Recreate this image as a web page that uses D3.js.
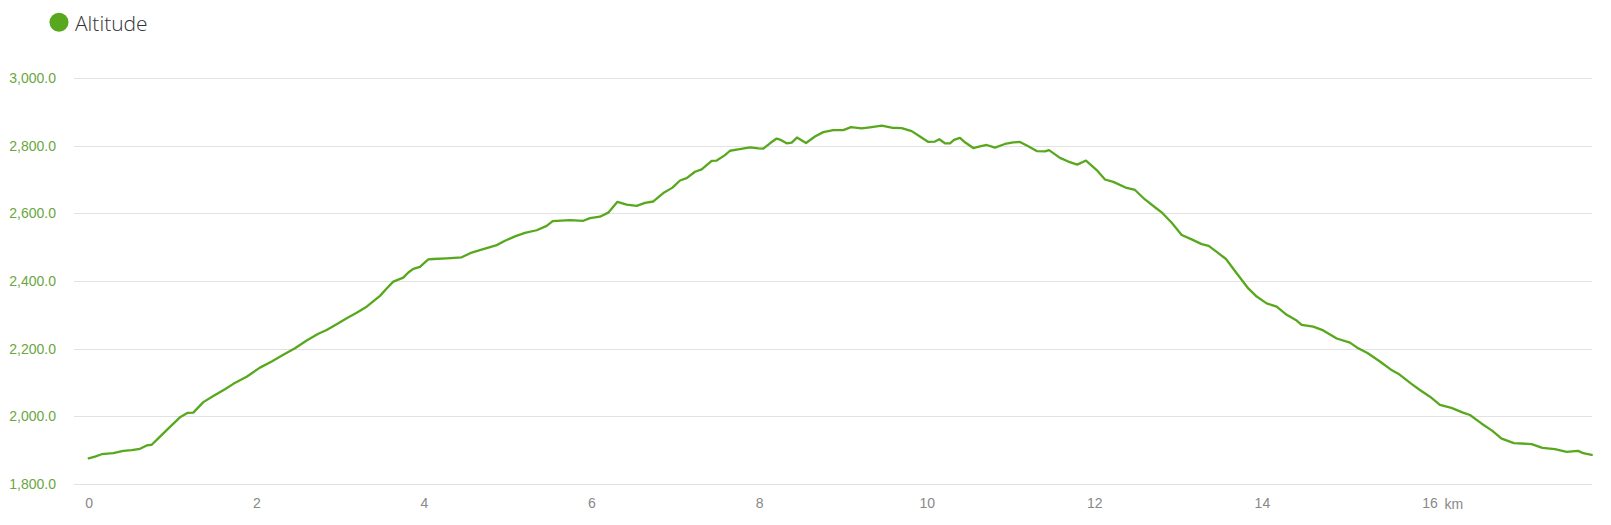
<!DOCTYPE html>
<html>
<head>
<meta charset="utf-8">
<script src="https://cdn.jsdelivr.net/npm/d3@7"></script>
<style>
  html, body { margin: 0; padding: 0; background: #fff; }
  svg { display: block; }
</style>
</head>
<body>
<svg id="chart" width="1611" height="525"></svg>
<script>
// distance along the track (km) and altitude (m)
const distanceKm = [
  0, 0.075, 0.155, 0.294, 0.413, 0.513, 0.612, 0.692, 0.752, 0.851,
  0.970, 1.089, 1.177, 1.248, 1.368, 1.487, 1.626, 1.726, 1.885, 2.044,
  2.184, 2.322, 2.462, 2.601, 2.740, 2.840, 2.979, 3.079, 3.198, 3.317,
  3.476, 3.556, 3.635, 3.754, 3.814, 3.874, 3.953, 4.052, 4.112, 4.272,
  4.451, 4.570, 4.709, 4.869, 4.968, 5.087, 5.206, 5.346, 5.465, 5.537,
  5.743, 5.902, 5.982, 6.101, 6.200, 6.310, 6.420, 6.539, 6.638, 6.738,
  6.857, 6.967, 7.056, 7.136, 7.235, 7.315, 7.434, 7.494, 7.593, 7.653,
  7.752, 7.892, 7.991, 8.050, 8.130, 8.210, 8.249, 8.329, 8.389, 8.452,
  8.560, 8.667, 8.766, 8.885, 9.005, 9.097, 9.224, 9.323, 9.463, 9.582,
  9.702, 9.821, 9.920, 10.019, 10.099, 10.150, 10.218, 10.278, 10.326, 10.397,
  10.457, 10.556, 10.636, 10.716, 10.815, 10.934, 11.033, 11.113, 11.212, 11.313,
  11.412, 11.460, 11.591, 11.690, 11.797, 11.901, 12.029, 12.128, 12.227, 12.387,
  12.486, 12.605, 12.724, 12.804, 12.924, 13.043, 13.162, 13.282, 13.365, 13.461,
  13.572, 13.699, 13.838, 13.938, 14.057, 14.177, 14.296, 14.415, 14.475, 14.613,
  14.733, 14.893, 15.051, 15.150, 15.260, 15.409, 15.541, 15.628, 15.785, 15.886,
  16.006, 16.125, 16.262, 16.400, 16.483, 16.620, 16.751, 16.861, 17.008, 17.219,
  17.348, 17.497, 17.637, 17.775, 17.835, 17.936
]
const altitudeM = [
  1876, 1881, 1888, 1891, 1898, 1900, 1904, 1914, 1916, 1940,
  1969, 1997, 2010, 2011, 2042, 2060, 2080, 2096, 2117, 2144,
  2162, 2182, 2201, 2224, 2244, 2255, 2275, 2290, 2306, 2324,
  2356, 2378, 2398, 2410, 2425, 2436, 2442, 2464, 2465, 2467,
  2470, 2484, 2494, 2506, 2519, 2532, 2542, 2550, 2563, 2577,
  2580, 2578, 2586, 2590, 2602, 2634, 2626, 2622, 2631, 2635,
  2660, 2676, 2697, 2704, 2723, 2730, 2755, 2756, 2772, 2785,
  2789, 2795, 2792, 2791, 2807, 2821, 2818, 2807, 2809, 2824,
  2808, 2827, 2840, 2846, 2846, 2855, 2851, 2854, 2859, 2853,
  2852, 2843, 2827, 2811, 2812, 2819, 2807, 2807, 2817, 2823,
  2810, 2793, 2798, 2802, 2794, 2805, 2810, 2811, 2798, 2784,
  2783, 2787, 2764, 2753, 2744, 2756, 2728, 2700, 2693, 2675,
  2669, 2641, 2618, 2603, 2572, 2536, 2523, 2509, 2504, 2486,
  2465, 2423, 2378, 2354, 2334, 2324, 2300, 2283, 2270, 2265,
  2254, 2230, 2218, 2201, 2187, 2162, 2138, 2126, 2096, 2078,
  2058, 2034, 2025, 2011, 2004, 1979, 1957, 1934, 1921, 1918,
  1907, 1903, 1895, 1898, 1891, 1886
]
const yTicks = [1800, 2000, 2200, 2400, 2600, 2800, 3000]
const xTicks = [0, 2, 4, 6, 8, 10, 12, 14, 16]
const seriesName = 'Altitude'
const unitLabel = 'km'

const lineColor = '#58a81e'
const svg = d3.select('#chart')

const gridLeft = 74
const gridRight = 1592
const x = d3.scaleLinear().domain([0, d3.max(distanceKm)]).range([88.7, 1591.7])
const y = d3.scaleLinear().domain([1800, 3000]).range([484, 78])

// horizontal grid lines
svg.append('g')
  .selectAll('line')
  .data(yTicks)
  .enter().append('line')
  .attr('x1', gridLeft)
  .attr('x2', gridRight)
  .attr('y1', d => Math.round(y(d)) + 0.5)
  .attr('y2', d => Math.round(y(d)) + 0.5)
  .attr('stroke', '#e2e2e2')
  .attr('stroke-width', 1)

// y labels
const yAxis = svg.append('g')
  .attr('transform', `translate(${gridLeft},0)`)
  .call(d3.axisLeft(y).tickValues(yTicks).tickSize(0).tickPadding(18).tickFormat(d3.format(',.1f')))
yAxis.select('.domain').remove()
yAxis.selectAll('text')
  .attr('fill', '#6aa63f')
  .attr('font-family', 'Liberation Sans, Arial, sans-serif')
  .attr('font-size', 14)

// x labels
const xAxis = svg.append('g')
  .attr('transform', 'translate(0,484)')
  .call(d3.axisBottom(x).tickValues(xTicks).tickSize(0).tickPadding(14.5).tickFormat(d3.format('d')))
xAxis.select('.domain').remove()
xAxis.selectAll('text')
  .attr('fill', '#888')
  .attr('font-family', 'Liberation Sans, Arial, sans-serif')
  .attr('font-size', 14)
// unit after the last tick
svg.append('text')
  .attr('x', x(xTicks[xTicks.length - 1]) + 15)
  .attr('y', 508.5)
  .attr('fill', '#888')
  .attr('font-family', 'Liberation Sans, Arial, sans-serif')
  .attr('font-size', 14)
  .text(unitLabel)

// altitude profile
const points = distanceKm.map((d, i) => [d, altitudeM[i]])
const line = d3.line()
  .x(d => x(d[0]))
  .y(d => y(d[1]))
svg.append('path')
  .datum(points)
  .attr('d', line)
  .attr('fill', 'none')
  .attr('stroke', lineColor)
  .attr('stroke-width', 2.3)
  .attr('stroke-linejoin', 'round')
  .attr('stroke-linecap', 'round')

// legend
svg.append('circle')
  .attr('cx', 59)
  .attr('cy', 22.3)
  .attr('r', 9.5)
  .attr('fill', lineColor)
svg.append('text')
  .attr('x', 75)
  .attr('y', 31)
  .attr('fill', '#333')
  .attr('font-family', 'Open Sans, sans-serif')
  .attr('font-weight', 300)
  .attr('font-size', 21)
  .text(seriesName)
</script>
</body>
</html>
